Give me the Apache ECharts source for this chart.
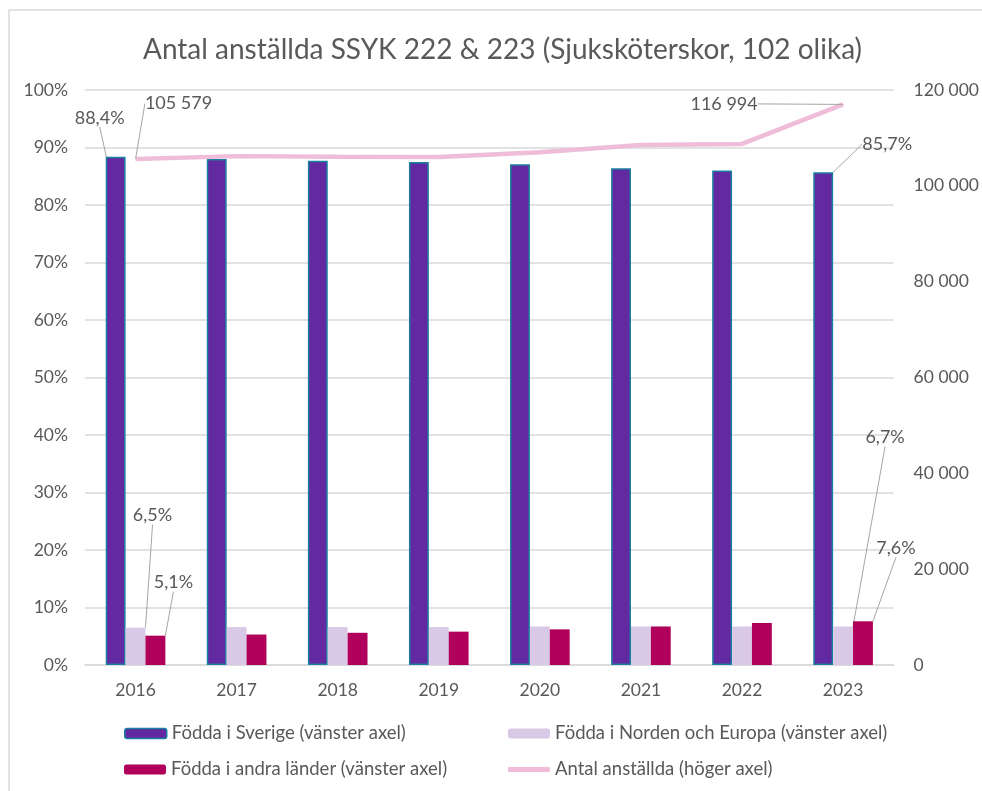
<!DOCTYPE html>
<html>
<head>
<meta charset="utf-8">
<title>Antal anställda SSYK 222 & 223</title>
<script src="https://cdn.jsdelivr.net/npm/echarts@6/dist/echarts.min.js"></script>
<style>
  html, body { margin: 0; padding: 0; background: #fff; }
  #chart { width: 982px; height: 791px; }
</style>
</head>
<body>
<div id="chart"></div>
<script>
const years = ["2016", "2017", "2018", "2019", "2020", "2021", "2022", "2023"];
const foddaSverige = [88.4, 88.0, 87.7, 87.5, 87.1, 86.4, 86.0, 85.7];
const foddaNordenEuropa = [6.5, 6.6, 6.6, 6.6, 6.7, 6.7, 6.7, 6.7];
const foddaAndra = [5.1, 5.3, 5.6, 5.8, 6.2, 6.7, 7.3, 7.6];
const antalAnstallda = [105579, 106200, 106050, 106000, 107000, 108500, 108750, 116994];
const leftTicks = [0, 10, 20, 30, 40, 50, 60, 70, 80, 90, 100];
const rightTicks = [0, 20000, 40000, 60000, 80000, 100000, 120000];

const names = [
  "Födda i Sverige (vänster axel)",
  "Födda i Norden och Europa (vänster axel)",
  "Födda i andra länder (vänster axel)",
  "Antal anställda (höger axel)",
];

const FONT = "Lato";
const TEXT = "#595959";
const GRIDC = "#d9d9d9";

const pct = (v) => v.toFixed(1).replace(".", ",") + "%";
const spaced = (v) => String(v).replace(/\B(?=(\d{3})+(?!\d))/g, " ");

// labels only on first and last point, offset like the original
const offsets = {
  0: { 0: [-16, -25], 7: [64, -14] },
  1: { 0: [17, -98], 7: [42, -175] },
  2: { 0: [18, -39], 7: [33, -59] },
  3: { 0: [43, -41], 7: [-119, 14] },
};

const labelCfg = {
  show: true,
  position: "top",
  color: TEXT,
  fontFamily: FONT,
  fontSize: 18,
};
const lineCfg = { show: true, lineStyle: { color: "#a6a6a6", width: 1 } };

function labeled(values, fmt) {
  return values.map((v, i) =>
    i === 0 || i === values.length - 1
      ? { value: v, label: { ...labelCfg, formatter: () => fmt(v) } }
      : { value: v, label: { show: false } }
  );
}

function layoutFor(seriesIdx) {
  return (params) => {
    const o = offsets[seriesIdx][params.dataIndex];
    return o ? { dx: o[0], dy: o[1] } : {};
  };
}

const myChart = echarts.init(document.getElementById("chart"));

function legendAt(name, left, top, extra) {
  return {
    data: [name],
    left,
    top,
    padding: 0,
    itemWidth: 42,
    itemHeight: 10,
    selectedMode: false,
    textStyle: { color: TEXT, fontFamily: FONT, fontSize: 18.5 },
    ...extra,
  };
}

const options = {
  animation: false,
  backgroundColor: "#fff",
  title: {
    text: "Antal anställda SSYK 222 & 223 (Sjuksköterskor, 102 olika)",
    left: 138,
    top: 31,
    textStyle: { color: TEXT, fontFamily: FONT, fontSize: 28, fontWeight: "normal" },
  },
  graphic: [
    {
      type: "rect",
      shape: { x: 9, y: 10, width: 1100, height: 1000 },
      style: { fill: "none", stroke: GRIDC, lineWidth: 1.5 },
      silent: true,
    },
  ],
  legend: [
    legendAt(names[0], 124, 724, { itemStyle: { borderColor: "#1a7fa0", borderWidth: 1.5 } }),
    legendAt(names[1], 508, 724),
    legendAt(names[2], 124, 760),
    legendAt(names[3], 508, 760, { icon: "roundRect", itemHeight: 5 }),
  ],
  grid: { left: 85, right: 84, top: 90, bottom: 126 },
  xAxis: {
    type: "category",
    data: years,
    axisTick: { show: false },
    axisLine: { lineStyle: { color: GRIDC, width: 1.5 } },
    axisLabel: { color: TEXT, fontFamily: FONT, fontSize: 17.5, margin: 16 },
  },
  yAxis: [
    {
      type: "value",
      min: leftTicks[0],
      max: leftTicks[leftTicks.length - 1],
      interval: leftTicks[1] - leftTicks[0],
      axisLine: { show: false },
      axisTick: { show: false },
      splitLine: { lineStyle: { color: GRIDC, width: 1.5 } },
      axisLabel: { color: TEXT, fontFamily: FONT, fontSize: 17.5, margin: 17, formatter: "{value}%" },
    },
    {
      type: "value",
      min: rightTicks[0],
      max: rightTicks[rightTicks.length - 1],
      interval: rightTicks[1] - rightTicks[0],
      axisLine: { show: false },
      axisTick: { show: false },
      splitLine: { show: false },
      axisLabel: { color: TEXT, fontFamily: FONT, fontSize: 17.5, margin: 20, formatter: spaced },
    },
  ],
  series: [
    {
      name: names[0],
      type: "bar",
      barGap: 0,
      barCategoryGap: "41%",
      data: labeled(foddaSverige, pct),
      itemStyle: { color: "#6229a0", borderColor: "#1a7fa0", borderWidth: 1.5 },
      labelLine: lineCfg,
      labelLayout: layoutFor(0),
    },
    {
      name: names[1],
      type: "bar",
      barGap: 0,
      barCategoryGap: "41%",
      data: labeled(foddaNordenEuropa, pct),
      itemStyle: { color: "#d9c9e6" },
      labelLine: lineCfg,
      labelLayout: layoutFor(1),
    },
    {
      name: names[2],
      type: "bar",
      barGap: 0,
      barCategoryGap: "41%",
      data: labeled(foddaAndra, pct),
      itemStyle: { color: "#b0005b" },
      labelLine: lineCfg,
      labelLayout: layoutFor(2),
    },
    {
      name: names[3],
      type: "line",
      yAxisIndex: 1,
      symbol: "circle",
      symbolSize: 1,
      data: labeled(antalAnstallda, spaced),
      itemStyle: { color: "#efbcd9" },
      lineStyle: { color: "#efbcd9", width: 4.5 },
      labelLine: lineCfg,
      labelLayout: layoutFor(3),
      z: 5,
    },
  ],
};

myChart.setOption(options);
</script>
</body>
</html>
